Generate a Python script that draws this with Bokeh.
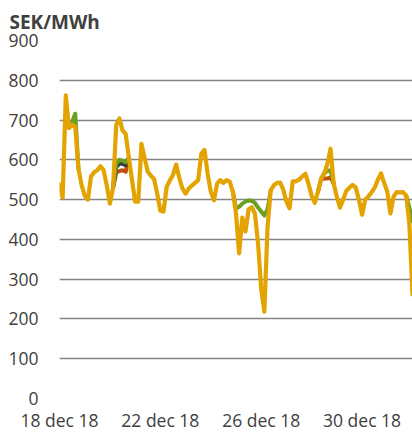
from bokeh.plotting import figure
from bokeh.models import FixedTicker
from bokeh.embed import file_html
from bokeh.resources import INLINE

# ---- data (3-hourly, from 18 dec 2018 00:00) ----
step_hours = 3
orange = [538, 505, 762, 680, 688, 683, 578, 537,
          510, 500, 558, 569, 574, 584, 574, 535,
          490, 530, 688, 704, 674, 665, 605, 550,
          495, 495, 640, 605, 570, 560, 552, 515,
          472, 470, 532, 548, 562, 588, 555, 528,
          515, 528, 535, 542, 549, 615, 625, 565,
          520, 498, 540, 549, 542, 549, 545, 520,
          465, 365, 455, 420, 476, 481, 465, 390,
          275, 218, 430, 523, 536, 542, 543, 525,
          495, 478, 546, 546, 550, 558, 565, 540,
          510, 492, 520, 552, 565, 590, 628, 540,
          507, 480, 500, 522, 530, 537, 530, 500,
          462, 500, 508, 518, 530, 550, 566, 542,
          520, 465, 508, 519, 518, 519, 510, 440,
          262]

# other series: only the stretches where they differ from the orange one
green_hours = [[9, 12, 15, 18],
               [51, 54, 57, 60, 63, 66],
               [165, 168, 171, 174, 177, 180, 183, 186, 189, 192, 195, 198, 201],
               [249, 252, 255, 258, 261],
               [330, 333, 336]]
green_vals = [[680, 695, 716, 578],
              [530, 590, 600, 598, 594, 605],
              [520, 478, 482, 490, 495, 498, 497, 492, 480, 470, 460, 475, 523],
              [552, 567, 572, 574, 540],
              [510, 480, 445]]

dark_hours = [[51, 54, 57, 60, 63, 66]]
dark_vals = [[530, 582, 590, 590, 586, 605]]

brown_hours = [[51, 54, 57, 60, 63, 66],
               [246, 249, 252, 255, 258, 261]]
brown_vals = [[530, 568, 572, 574, 570, 605],
              [520, 552, 553, 553, 556, 540]]

x_ticks = [0, 4, 8, 12]
x_labels = ["18 dec 18", "22 dec 18", "26 dec 18", "30 dec 18"]
y_ticks = [0, 100, 200, 300, 400, 500, 600, 700, 800, 900]
unit_title = "SEK/MWh"

FONT = "Open Sans"
TXT = "#404040"

p = figure(frame_width=353, frame_height=358, output_backend="svg", toolbar_location=None,
           x_range=(0, 14), y_range=(0, 900),
           min_border_left=59, min_border_right=0, min_border_top=40, min_border_bottom=36)
p.outline_line_color = None
p.background_fill_color = "white"
p.border_fill_color = "white"

p.title.text = unit_title
p.title.text_font = FONT
p.title.text_font_style = "bold"
p.title.text_font_size = "19px"
p.title.text_color = TXT
p.title.align = "left"
p.title.offset = -50
p.title.standoff = 12

days = lambda hs: [h / 24 for h in hs]

p.multi_line([days(h) for h in brown_hours], brown_vals, line_color="#C0500E",
             line_width=4, line_join="round", line_cap="round")
p.multi_line([days(h) for h in dark_hours], dark_vals, line_color="#3C3C3C",
             line_width=4, line_join="round", line_cap="round")
p.multi_line([days(h) for h in green_hours], green_vals, line_color="#6A9F1F",
             line_width=4, line_join="round", line_cap="round")
ox = [i * step_hours / 24 for i in range(len(orange))]
p.line(ox, orange, line_color="#E3A300", line_width=4.2, line_join="round", line_cap="round")

p.xgrid.grid_line_color = None
p.ygrid.grid_line_color = "#858585"
p.ygrid.grid_line_width = 1.5
p.ygrid.ticker = FixedTicker(ticks=y_ticks)

p.yaxis.ticker = FixedTicker(ticks=y_ticks)
p.xaxis.ticker = FixedTicker(ticks=x_ticks)
p.xaxis.major_label_overrides = {t: l for t, l in zip(x_ticks, x_labels)}
for ax in (p.xaxis[0], p.yaxis[0]):
    ax.axis_line_color = None
    ax.major_tick_line_color = None
    ax.minor_tick_line_color = None
    ax.major_tick_out = 0
    ax.major_tick_in = 0
    ax.minor_tick_out = 0
    ax.major_label_text_font = FONT
    ax.major_label_text_font_size = "17.5px"
    ax.major_label_text_color = TXT
p.yaxis[0].major_label_standoff = 21
p.xaxis[0].major_label_standoff = 9
p.xaxis[0].major_label_text_line_height = 0.8

open("out.html", "w").write(file_html(p, INLINE))
